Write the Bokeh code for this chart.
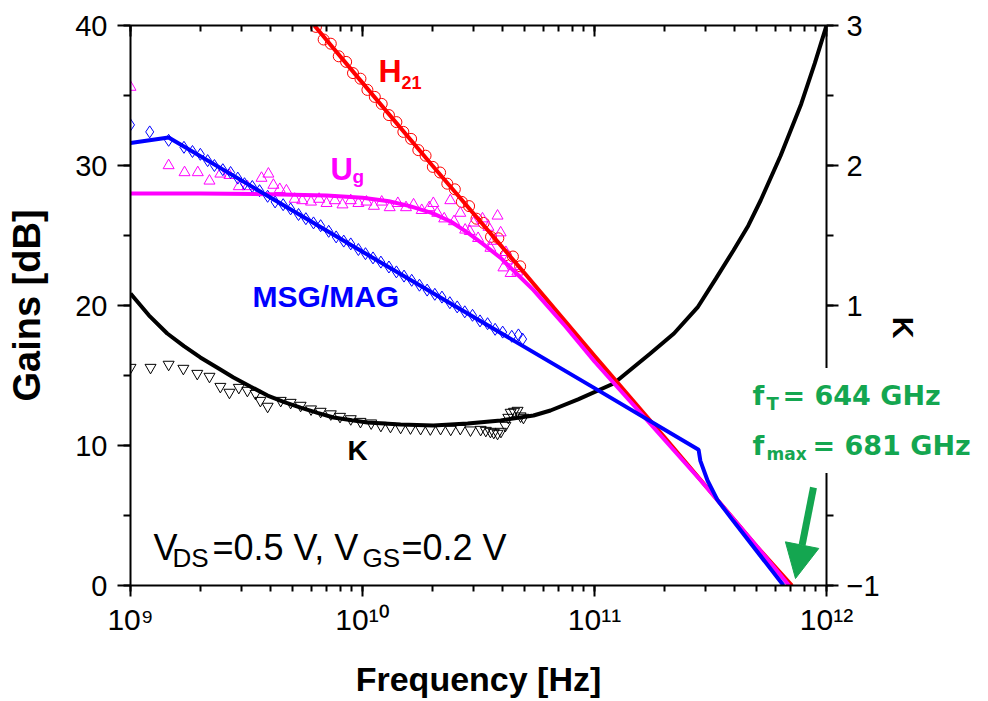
import math
from bokeh.plotting import figure
from bokeh.models import (ColumnDataSource, Range1d, LinearAxis, LogAxis, SingleIntervalTicker,
                          LogTicker, CustomJSTickFormatter, Label, Arrow, NormalHead)
from bokeh.embed import file_html
from bokeh.resources import INLINE

# ---------------- data (frequencies in GHz) ----------------
H21_LINE_F = [6.2, 10, 20, 50, 100, 200, 500, 710]
H21_LINE_DB = [40.0, 35.9, 30.0, 22.3, 16.4, 10.6, 2.8, 0.0]
H21_MARK_F = [6.3, 6.8, 7.3, 7.9, 8.5, 9.1, 9.8, 10.5, 11.3, 12.1, 13, 14, 15, 16.2, 17.4,
              18.7, 20.1, 21.6, 23.2, 25, 26.8, 28.8, 31, 33.3, 35.8, 38.5, 41.4, 44.5, 47.8]
H21_MARK_DB = [39.9, 39.0, 38.7, 37.8, 37.4, 36.6, 36.2, 35.4, 34.9, 34.4, 33.6, 33.1, 32.4, 31.9,
               31.1, 30.7, 29.9, 29.5, 28.7, 28.3, 27.4, 27.1, 26.2, 25.9, 24.9, 24.8, 23.6, 23.5, 22.8]

UG_LINE_F = [1, 2, 4, 7, 10, 13, 16, 20, 24, 28.4, 33, 39.4, 46, 54.6, 75, 100, 175, 287, 500, 690]
UG_LINE_DB = [28.0, 28.0, 27.95, 27.85, 27.7, 27.45, 27.1, 26.6, 26.0, 25.2, 24.4, 23.4, 22.3,
              21.1, 18.5, 16.0, 11.5, 7.5, 2.8, 0.0]
UG_MARK_F = [1.0, 1.46, 1.71, 1.95, 2.19, 2.44, 2.67, 2.93, 3.19, 3.67, 3.93, 4.13, 4.4, 4.7, 5.1,
             5.5, 6.0, 6.5, 7.0, 7.6, 8.2, 8.9, 9.6, 10.4, 11.2, 12.1, 13.1, 14.2, 15.4, 16.6,
             18.0, 19.4, 20.2, 21.0, 22.5, 23.9, 24.8, 26.4, 27.7, 29.0, 30.1, 31.5, 32.9, 34.9,
             35.6, 36.5, 38.2, 39.4, 40.5, 41.5, 42.2, 43.5, 45.0, 46.5]
UG_MARK_DB = [35.6, 30.0, 29.5, 29.5, 28.9, 29.4, 29.3, 28.5, 28.5, 29.1, 29.4, 28.6, 28.3, 28.2,
              27.6, 27.5, 27.4, 27.6, 27.3, 27.5, 27.2, 27.5, 27.3, 27.4, 27.1, 27.4, 27.0, 27.3,
              27.0, 27.2, 26.8, 27.0, 27.3, 26.6, 26.2, 27.5, 26.0, 26.6, 25.4, 25.3, 25.9, 24.8,
              26.2, 25.6, 24.1, 24.6, 26.4, 25.2, 22.7, 23.8, 23.2, 22.3, 22.8, 22.4]

MSG_LINE_F = [1, 1.46, 10, 100, 281, 286, 307, 339, 397, 653]
MSG_LINE_DB = [31.6, 32.0, 23.84, 14.1, 9.7, 8.9, 7.5, 6.1, 4.6, 0.0]
MSG_MARK_F = [1.0, 1.21, 1.46, 1.7, 1.85, 2.0, 2.15, 2.3, 2.5, 2.7, 2.9, 3.1, 3.35, 3.6, 3.9, 4.2,
              4.55, 4.9, 5.3, 5.7, 6.15, 6.6, 7.15, 7.7, 8.3, 8.9, 9.6, 10.3, 11.1, 12, 13, 14,
              15.1, 16.3, 17.6, 19, 20.5, 22, 23.8, 25.6, 27.6, 29.8, 32.1, 34.6, 37.3, 40.2,
              44, 47, 49]
MSG_MARK_DB = [32.9, 32.4, 31.8, 31.3, 31.0, 30.8, 30.35, 30.0, 29.7, 29.5, 29.1, 28.7, 28.5, 28.2,
               27.8, 27.4, 27.2, 26.9, 26.5, 26.2, 25.9, 25.7, 25.3, 24.9, 24.6, 24.4, 24.0, 23.7,
               23.4, 23.1, 22.75, 22.4, 22.1, 21.8, 21.45, 21.1, 20.8, 20.6, 20.2, 19.9, 19.55,
               19.3, 18.9, 18.7, 18.3, 18.1, 17.8, 17.9, 17.6]

K_LINE_F = [1.0, 1.2, 1.44, 1.7, 2.0, 2.4, 2.78, 3.3, 3.9, 4.6, 5.41, 6.4, 7.5, 9.0, 10.5, 14.6,
            20.2, 28.4, 39.4, 54.6, 64.6, 85, 121, 174, 220, 278, 333, 397, 460, 520, 634, 778,
            890, 1000]
K_LINE_K = [1.086, 0.93, 0.80, 0.71, 0.629, 0.55, 0.486, 0.42, 0.357, 0.31, 0.271, 0.233, 0.2,
            0.18, 0.164, 0.15, 0.143, 0.157, 0.179, 0.214, 0.25, 0.33, 0.443, 0.657, 0.80, 0.986,
            1.19, 1.393, 1.57, 1.75, 2.07, 2.44, 2.73, 3.0]
K_MARK_F = [1.0, 1.22, 1.46, 1.69, 1.94, 2.19, 2.44, 2.67, 2.93, 3.19, 3.46, 3.63, 3.9, 4.44, 4.9,
            5.41, 6.0, 6.6, 7.3, 8.0, 8.9, 9.8, 10.9, 12.0, 13.2, 14.6, 16.1, 17.8, 19.6, 21.7,
            24.0, 26.4, 29.2, 32.3, 34.0, 35.6, 36.8, 38.2, 39.5, 41.3, 42.5, 43.5, 45.0, 46.6,
            48.0, 49.4]
K_MARK_K = [0.557, 0.557, 0.579, 0.55, 0.514, 0.493, 0.421, 0.379, 0.414, 0.393, 0.371, 0.321,
            0.279, 0.321, 0.307, 0.286, 0.26, 0.243, 0.225, 0.207, 0.19, 0.171, 0.16, 0.143,
            0.136, 0.129, 0.125, 0.121, 0.118, 0.121, 0.115, 0.121, 0.11, 0.114, 0.107, 0.1,
            0.093, 0.086, 0.1, 0.143, 0.2, 0.236, 0.243, 0.25, 0.21, 0.2]

X_TICK_LABELS = ["10\u2079", "10\u00b9\u2070", "10\u00b9\u00b9", "10\u00b9\u00b2"]

GHZ = 1e9
SANS = "Liberation Sans"
GREEN = "#14A650"
RED = "#FF0000"
MAG = "#FF00FF"
BLUE = "#0000FF"


def hz(lst):
    return [v * GHZ for v in lst]


p = figure(x_axis_type="log", x_range=Range1d(1e9, 1e12), y_range=Range1d(0, 40),
           frame_width=696, frame_height=560,
           min_border_left=130, min_border_right=162, min_border_top=25, min_border_bottom=116,
           output_backend="svg", toolbar_location=None)
p.extra_y_ranges = {"k": Range1d(-1, 3)}
p.xgrid.visible = False
p.ygrid.visible = False
p.outline_line_color = None
p.background_fill_color = "white"
p.border_fill_color = "white"


def style_axis(ax):
    ax.axis_line_width = 2
    ax.axis_line_color = "black"
    ax.major_tick_line_width = 2
    ax.minor_tick_line_width = 2
    ax.major_tick_line_color = "black"
    ax.minor_tick_line_color = "black"
    ax.major_label_text_font = SANS
    ax.major_label_text_color = "black"
    ax.axis_label_text_color = "black"
    ax.major_tick_in = 0
    ax.minor_tick_in = 0


# bottom axis
xa = p.xaxis[0]
style_axis(xa)
xa.ticker = LogTicker(desired_num_ticks=4, num_minor_ticks=10)
xa.formatter = CustomJSTickFormatter(args=dict(labels=X_TICK_LABELS),
                                     code="return labels[Math.round(Math.log10(tick)) - 9];")
xa.major_tick_out = 11
xa.minor_tick_out = 6
xa.major_label_text_font_size = "30px"
xa.major_label_standoff = 6
xa.axis_label = "Frequency [Hz]"
xa.axis_label_text_font = SANS
xa.axis_label_text_font_style = "bold"
xa.axis_label_text_font_size = "34px"
xa.axis_label_standoff = 21

# left axis
ya = p.yaxis[0]
style_axis(ya)
ya.ticker = SingleIntervalTicker(interval=10, num_minor_ticks=2)
ya.major_tick_out = 13
ya.minor_tick_out = 7
ya.major_label_text_font_size = "29px"
ya.major_label_standoff = 10
ya.axis_label = "Gains [dB]"
ya.axis_label_text_font = SANS
ya.axis_label_text_font_style = "bold"
ya.axis_label_text_font_size = "38px"
ya.axis_label_standoff = 24

# top axis (mirror ticks, inward)
ta = LogAxis(ticker=LogTicker(desired_num_ticks=4, num_minor_ticks=10),
             formatter=CustomJSTickFormatter(code="return '';"))
style_axis(ta)
ta.major_tick_out = 0
ta.minor_tick_out = 0
ta.major_tick_in = 11
ta.minor_tick_in = 6
ta.major_label_standoff = 0
ta.major_label_text_font_size = "1px"
p.add_layout(ta, "above")

# right axis for K
ra = LinearAxis(y_range_name="k", ticker=SingleIntervalTicker(interval=1, num_minor_ticks=2))
style_axis(ra)
ra.major_tick_out = 12
ra.minor_tick_out = 7
ra.major_label_text_font_size = "29px"
ra.major_label_standoff = 8
p.add_layout(ra, "right")

# ---------------- glyphs ----------------
k_mark = ColumnDataSource(dict(f=hz(K_MARK_F), v=K_MARK_K))
k_line = ColumnDataSource(dict(f=hz(K_LINE_F), v=K_LINE_K))
h_mark = ColumnDataSource(dict(f=hz(H21_MARK_F), v=H21_MARK_DB))
h_line = ColumnDataSource(dict(f=hz(H21_LINE_F), v=H21_LINE_DB))
u_mark = ColumnDataSource(dict(f=hz(UG_MARK_F), v=UG_MARK_DB))
u_line = ColumnDataSource(dict(f=hz(UG_LINE_F), v=UG_LINE_DB))
m_mark = ColumnDataSource(dict(f=hz(MSG_MARK_F), v=MSG_MARK_DB))
m_line = ColumnDataSource(dict(f=hz(MSG_LINE_F), v=MSG_LINE_DB))

p.scatter("f", "v", source=k_mark, y_range_name="k", marker="inverted_triangle", size=11,
          fill_color=None, line_color="black", line_width=1)
p.scatter("f", "v", source=h_mark, marker="circle", size=11,
          fill_color=None, line_color=RED, line_width=1)
p.scatter("f", "v", source=u_mark, marker="triangle", size=11,
          fill_color=None, line_color=MAG, line_width=1)
p.scatter("f", "v", source=m_mark, marker="diamond", size=12,
          fill_color=None, line_color=BLUE, line_width=1)

p.line("f", "v", source=k_line, y_range_name="k", line_color="black", line_width=4)
p.line("f", "v", source=h_line, line_color=RED, line_width=4)
p.line("f", "v", source=u_line, line_color=MAG, line_width=4)
p.line("f", "v", source=m_line, line_color=BLUE, line_width=4)


# ---------------- annotations ----------------
def px_x(xp):
    return 10 ** (9 + (xp - 130) / 232.0)


def px_y(yp):
    return (585 - yp) / 14.0


BASE_SHIFT = 10  # compensates the label baseline placement


def lab(text, xp, yp, size, color, bold=True, font=SANS, bg=None, pad=0, place=None):
    l = Label(x=px_x(xp - pad), y=px_y(yp - BASE_SHIFT), text=text, text_font_size=f"{size}px",
              text_color=color, text_font=font,
              text_font_style="bold" if bold else "normal",
              text_align="left", text_baseline="alphabetic")
    if bg is not None:
        l.background_fill_color = bg
        l.padding = pad
    if place is None:
        p.add_layout(l)
    else:
        p.add_layout(l, place)
    return l


GF = "DejaVu Sans"
lab("= 644 GHz", 782, 405, 27, GREEN, font=GF, bg="white", pad=12, place="right")
lab("= 681 GHz", 812, 455, 27, GREEN, font=GF, bg="white", pad=12, place="right")
lab("f", 752, 405, 27, GREEN, font=GF, place="right")
lab("T", 766, 413, 18, GREEN, font=GF, place="right")
lab("f", 752, 455, 27, GREEN, font=GF, place="right")
lab("max", 766, 463, 17, GREEN, font=GF, place="right")

# right-hand axis title "K" (rotated clockwise)
p.add_layout(Label(x=px_x(903), y=px_y(327), text="K", text_font_size="30px", text_color="black",
                   text_font=SANS, text_font_style="bold", text_align="center",
                   text_baseline="middle", angle=-math.pi / 2), "right")

lab("H", 378, 80, 32, RED)
lab("21", 401, 92, 18, RED)
lab("U", 330, 179, 31, MAG)
lab("g", 352, 186, 19, MAG)
lab("MSG/MAG", 252, 306, 30, BLUE)
lab("K", 347, 460, 28, "black")

lab("V", 153, 557, 36, "black", bold=False)
lab("DS", 172, 567, 26, "black", bold=False)
lab("=0.5 V, V", 212, 557, 36, "black", bold=False)
lab("GS", 362, 567, 26, "black", bold=False)
lab("=0.2 V", 401, 557, 36, "black", bold=False)

p.add_layout(Arrow(end=NormalHead(size=34, fill_color=GREEN, line_color=GREEN, line_width=1),
                   x_start=px_x(813), y_start=px_y(487), x_end=px_x(795), y_end=px_y(578),
                   line_color=GREEN, line_width=7))

open("out.html", "w").write(file_html(p, INLINE))
